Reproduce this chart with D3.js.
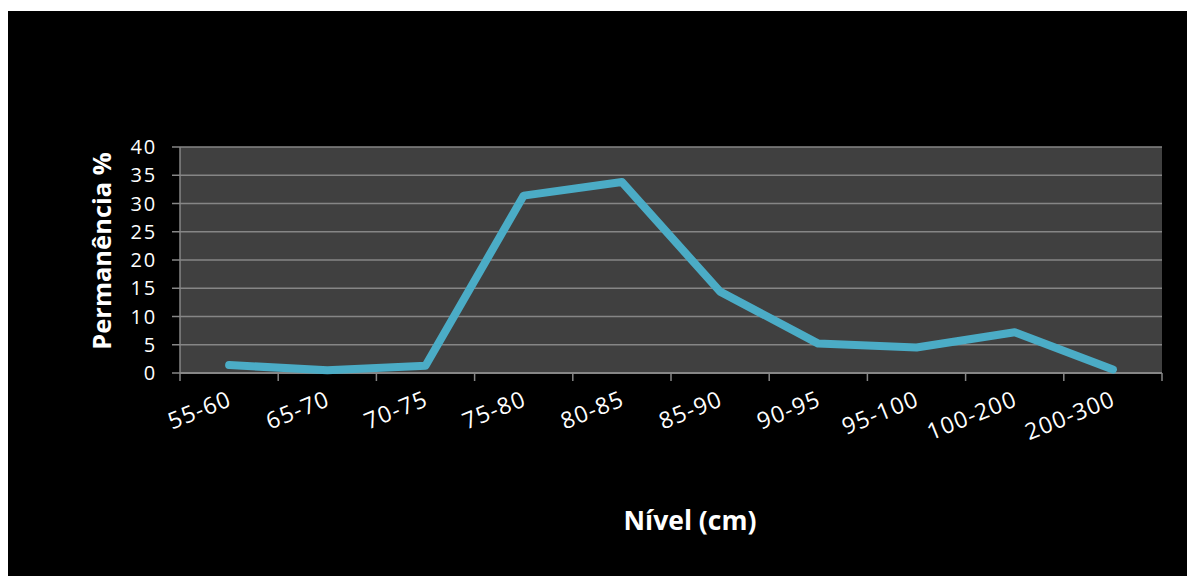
<!DOCTYPE html>
<html><head><meta charset="utf-8">
<script src="https://cdn.jsdelivr.net/npm/d3@7"></script>
<style>html,body{margin:0;padding:0;background:#fff;}svg{display:block;}</style>
</head><body>
<svg id="c" width="1187" height="576"></svg>
<script>
const categories = ["55-60","65-70","70-75","75-80","80-85","85-90","90-95","95-100","100-200","200-300"];
const values = [1.4, 0.5, 1.3, 31.4, 33.8, 14.4, 5.2, 4.5, 7.2, 0.6];
const yTicks = [0,5,10,15,20,25,30,35,40];
const yTitle = "Permanência %";
const xTitle = "Nível (cm)";

const svg = d3.select("#c");
const font = "'Open Sans', sans-serif";
svg.append("rect").attr("x",8).attr("y",11).attr("width",1179).attr("height",565).attr("fill","#000");

const L=180, R=1162, T=147, B=373;
const x = d3.scaleBand().domain(categories).range([L,R]);
const y = d3.scaleLinear().domain([0,40]).range([B,T]);

svg.append("rect").attr("x",L).attr("y",T).attr("width",R-L).attr("height",B-T).attr("fill","#404040");

svg.append("g").selectAll("line").data(yTicks).join("line")
  .attr("x1",L-8).attr("x2",R).attr("y1",d=>y(d)).attr("y2",d=>y(d))
  .attr("stroke","#868686").attr("stroke-width",1.5);

svg.append("line").attr("x1",L).attr("x2",L).attr("y1",T).attr("y2",B).attr("stroke","#868686").attr("stroke-width",1.5);

const bounds = categories.map(c=>x(c)).concat([R]);
svg.append("g").selectAll("line").data(bounds).join("line")
  .attr("x1",d=>d).attr("x2",d=>d).attr("y1",B).attr("y2",B+8)
  .attr("stroke","#868686").attr("stroke-width",1.5);
svg.append("line").attr("x1",L).attr("x2",R).attr("y1",B).attr("y2",B).attr("stroke","#868686").attr("stroke-width",2);

svg.append("g").selectAll("text").data(yTicks).join("text")
  .attr("x",L-23).attr("y",d=>y(d)).attr("dy","0.36em").attr("text-anchor","end")
  .attr("fill","#fff").attr("font-family",font).attr("font-size",20).attr("letter-spacing",1.8).text(d=>d);

svg.append("g").selectAll("text").data(categories).join("text")
  .attr("transform",c=>`translate(${x(c)+x.bandwidth()/2+4},${B+32}) rotate(-22)`)
  .attr("text-anchor","end")
  .attr("fill","#fff").attr("font-family",font).attr("font-size",23).attr("letter-spacing",1.2).text(d=>d);

const line = d3.line().x((d,i)=>x(categories[i])+x.bandwidth()/2).y(d=>y(d));
svg.append("path").datum(values).attr("d",line).attr("fill","none")
  .attr("stroke","#4BACC6").attr("stroke-width",8).attr("stroke-linejoin","round").attr("stroke-linecap","round");

svg.append("text").attr("transform",`translate(111,${(T+B)/2-9}) rotate(-90)`)
  .attr("text-anchor","middle").attr("fill","#fff").attr("font-family",font)
  .attr("font-weight","bold").attr("font-size",25.5).text(yTitle);
svg.append("text").attr("x",690).attr("y",530).attr("text-anchor","middle")
  .attr("fill","#fff").attr("font-family",font).attr("font-weight","bold").attr("font-size",26.5).text(xTitle);
</script>
</body></html>
